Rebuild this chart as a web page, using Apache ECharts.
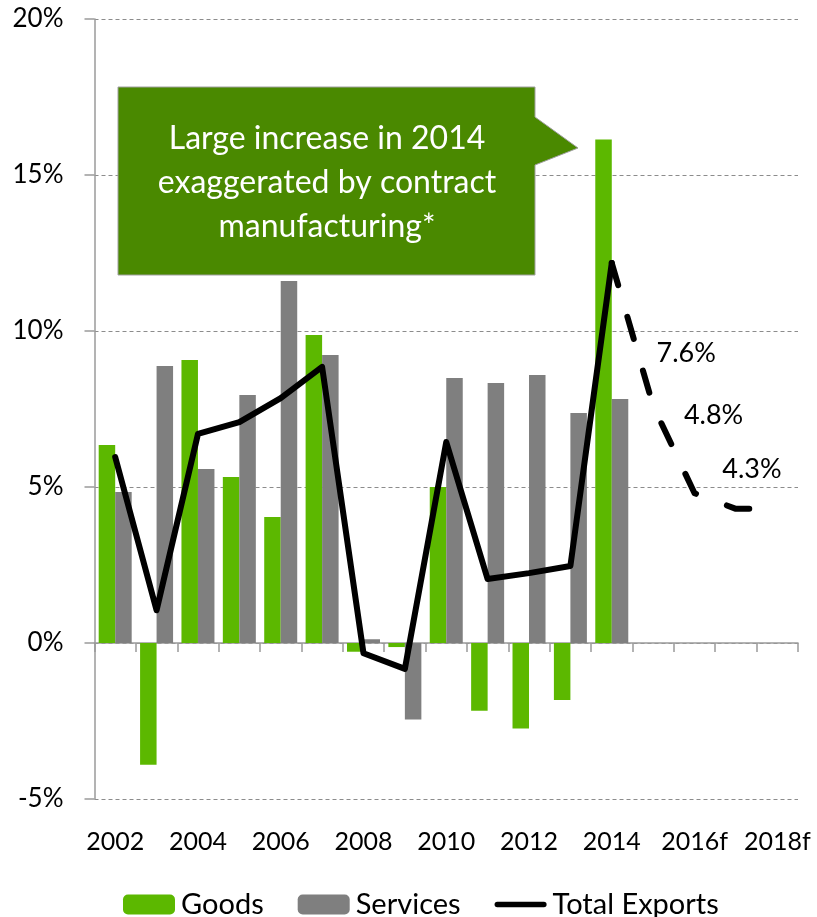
<!DOCTYPE html>
<html>
<head>
<meta charset="utf-8">
<script src="https://cdn.jsdelivr.net/npm/echarts@6/dist/echarts.min.js"></script>
<style>
  html, body { margin: 0; padding: 0; background: #ffffff; }
  #chart { width: 817px; height: 917px; }
</style>
</head>
<body>
<div id="chart"></div>
<script>
// Export growth by component, year on year (%)
const years = ['2002', '2003', '2004', '2005', '2006', '2007', '2008', '2009', '2010',
  '2011', '2012', '2013', '2014', '2015f', '2016f', '2017f', '2018f'];
const goods = [6.35, -3.9, 9.07, 5.32, 4.04, 9.87, -0.28, -0.13, 5.0,
  -2.17, -2.74, -1.83, 16.14, null, null, null, null];
const services = [4.84, 8.88, 5.58, 7.95, 11.6, 9.23, 0.12, -2.45, 8.49,
  8.33, 8.59, 7.37, 7.82, null, null, null, null];
const totalExports = [5.96, 1.05, 6.7, 7.08, 7.85, 8.85, -0.33, -0.83, 6.44,
  2.05, 2.24, 2.47, 12.18, null, null, null, null];
// forecast path starts from the last actual year
const totalForecast = [null, null, null, null, null, null, null, null, null,
  null, null, null, 12.18, 7.6, 4.8, 4.3, 4.3];
const labelledForecastYears = ['2015f', '2016f', '2017f'];
const yTicks = { min: -5, max: 20, step: 5 };
const calloutLines = ['Large increase in 2014', 'exaggerated by contract', 'manufacturing*'];

const FONT = 'Lato, "Open Sans", sans-serif';
const GREEN = '#5cb800';
const GREY = '#7f7f7f';

// label offsets (px) for forecast labels, placed up and to the right of each point
const forecastLabelOffset = {
  '2015f': [33, -53],
  '2016f': [19, -78],
  '2017f': [16, -40]
};

const forecastData = totalForecast.map((v, i) => {
  const yr = years[i];
  if (v != null && labelledForecastYears.includes(yr)) {
    return {
      value: v,
      label: {
        show: true,
        position: 'inside',
        offset: forecastLabelOffset[yr],
        formatter: (p) => p.value.toFixed(1) + '%',
        color: '#000',
        fontFamily: FONT,
        fontSize: 27
      }
    };
  }
  return v;
});

const chart = echarts.init(document.getElementById('chart'), null, { renderer: 'canvas' });

chart.setOption({
  animation: false,
  backgroundColor: '#ffffff',
  grid: { left: 94.5, right: 19, top: 19, bottom: 118, containLabel: false },
  legend: {
    data: [
      { name: 'Goods' },
      { name: 'Services' },
      {
        name: 'Total Exports',
        icon: 'path://M3,0 L55,0 A3,3 0 0 1 55,6 L3,6 A3,3 0 0 1 3,0 Z',
        itemStyle: { color: '#000' }
      }
    ],
    left: 118,
    top: 885,
    itemWidth: 52,
    itemHeight: 20,
    itemGap: 34,
    symbolKeepAspect: true,
    textStyle: { fontFamily: FONT, fontSize: 29, color: '#000', padding: [0, 0, 0, 1] }
  },
  xAxis: [
    {
      type: 'category',
      data: years,
      position: 'bottom',
      axisLine: { onZero: true, lineStyle: { color: '#9a9a9a', width: 1.5 } },
      axisTick: { show: true, length: 9, interval: 0, lineStyle: { color: '#9a9a9a', width: 1.5 } },
      axisLabel: { show: false },
      splitLine: { show: false }
    },
    {
      type: 'category',
      data: years,
      position: 'bottom',
      axisLine: { show: false, onZero: false },
      axisTick: { show: false },
      axisLabel: {
        show: true,
        interval: 1,
        margin: 30,
        color: '#000',
        fontFamily: FONT,
        fontSize: 25
      },
      splitLine: { show: false }
    }
  ],
  yAxis: {
    type: 'value',
    min: yTicks.min,
    max: yTicks.max,
    interval: yTicks.step,
    axisLine: { show: true, lineStyle: { color: '#9a9a9a', width: 1.5 } },
    axisTick: { show: true, length: 10, lineStyle: { color: '#9a9a9a', width: 1.5 } },
    axisLabel: {
      formatter: '{value}%',
      margin: 31,
      color: '#000',
      fontFamily: FONT,
      fontSize: 26
    },
    splitLine: { show: true, lineStyle: { color: '#8c8c8c', width: 1, type: [4, 3] } }
  },
  series: [
    {
      name: 'Goods',
      type: 'bar',
      xAxisIndex: 0,
      data: goods,
      barWidth: 16.5,
      barGap: '0%',
      itemStyle: { color: GREEN },
      z: 2
    },
    {
      name: 'Services',
      type: 'bar',
      xAxisIndex: 0,
      data: services,
      barWidth: 16.5,
      barGap: '0%',
      itemStyle: { color: GREY },
      z: 2
    },
    {
      name: 'Total Exports',
      type: 'line',
      xAxisIndex: 0,
      data: totalExports,
      symbol: 'none',
      color: '#000',
      lineStyle: { color: '#000', width: 6, cap: 'round', join: 'round' },
      z: 4
    },
    {
      name: 'Forecast',
      type: 'line',
      xAxisIndex: 0,
      data: forecastData,
      symbol: 'circle',
      symbolSize: 0.1,
      showSymbol: true,
      itemStyle: { color: 'rgba(0,0,0,0)' },
      color: '#000',
      lineStyle: { color: '#000', width: 6, type: [23, 33], cap: 'round', join: 'round' },
      z: 4
    }
  ],
  graphic: [
    {
      type: 'polygon',
      z: 100,
      shape: {
        points: [[118, 87], [535, 87], [535, 117], [578, 148], [535, 165], [535, 275], [118, 275]]
      },
      style: { fill: '#4a8900', stroke: '#a0a0a0', lineWidth: 1 }
    },
    {
      type: 'text',
      z: 101,
      style: {
        text: calloutLines.join('\n'),
        x: 327,
        y: 183,
        fill: '#ffffff',
        font: '32px ' + FONT,
        align: 'center',
        verticalAlign: 'middle',
        lineHeight: 44
      }
    }
  ]
});
</script>
</body>
</html>
